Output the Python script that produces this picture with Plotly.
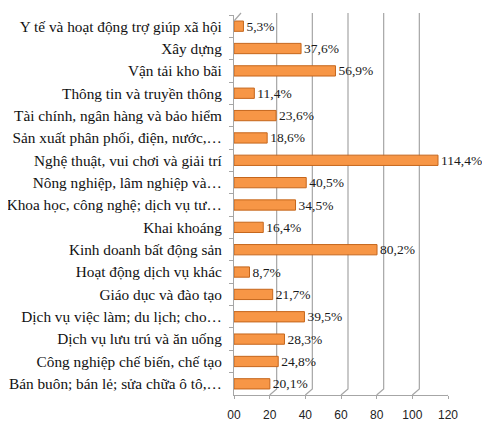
import plotly.graph_objects as go

# categories, top to bottom as in the picture
categories = [
    "Y tế và hoạt động trợ giúp xã hội",
    "Xây dựng",
    "Vận tải kho bãi",
    "Thông tin và truyền thông",
    "Tài chính, ngân hàng và bảo hiểm",
    "Sản xuất phân phối, điện, nước,…",
    "Nghệ thuật, vui chơi và giải trí",
    "Nông nghiệp, lâm nghiệp và…",
    "Khoa học, công nghệ; dịch vụ tư…",
    "Khai khoáng",
    "Kinh doanh bất động sản",
    "Hoạt động dịch vụ khác",
    "Giáo dục và đào tạo",
    "Dịch vụ việc làm; du lịch; cho…",
    "Dịch vụ lưu trú và ăn uống",
    "Công nghiệp chế biến, chế tạo",
    "Bán buôn; bán lẻ; sửa chữa ô tô,…",
]
values = [5.3, 37.6, 56.9, 11.4, 23.6, 18.6, 114.4, 40.5, 34.5,
          16.4, 80.2, 8.7, 21.7, 39.5, 28.3, 24.8, 20.1]
x_ticks = [0, 20, 40, 60, 80, 100, 120]
x_tick_labels = ["00", "20", "40", "60", "80", "100", "120"]

labels = [f"{v:.1f}".replace(".", ",") + "%" for v in values]

grid_col = "#A6A6A6"

fig = go.Figure()
fig.add_trace(go.Bar(
    x=values,
    y=categories,
    orientation="h",
    width=0.46,
    marker=dict(color="#F79646", line=dict(color="#C5661C", width=1)),
    text=labels,
    textposition="outside",
    constraintext="none",
    textfont=dict(family="Liberation Serif", size=13.5, color="#1a1a1a"),
    cliponaxis=False,
    hoverinfo="skip",
))

# back-wall gridlines with the little 3D slant at the floor
shapes = []
for t in x_ticks[1:]:
    shapes.append(dict(
        type="path", xref="x", yref="paper",
        xsizemode="pixel", ysizemode="pixel",
        xanchor=t, yanchor=0,
        path="M0,0 L7,6 L7,382",
        line=dict(color=grid_col, width=1.2),
        layer="below",
    ))
# left wall top slant
shapes.append(dict(
    type="path", xref="x", yref="paper",
    xsizemode="pixel", ysizemode="pixel",
    xanchor=0, yanchor=1,
    path="M0,-6 L7,2",
    line=dict(color=grid_col, width=1.2),
))

# the page has an 8px body margin, so the figure is shifted to compensate
fig.update_layout(
    width=490, height=422,
    margin=dict(l=226, r=50, t=7, b=35),
    paper_bgcolor="white", plot_bgcolor="white",
    showlegend=False,
    shapes=shapes,
    bargap=0.5,
)
fig.update_xaxes(
    range=[0, 120],
    automargin=False,
    tickvals=x_ticks, ticktext=x_tick_labels,
    showgrid=False, zeroline=False,
    showline=True, linecolor=grid_col, linewidth=1.2,
    ticks="outside", ticklen=3, tickcolor=grid_col,
    ticklabelstandoff=5,
    tickfont=dict(family="Liberation Sans", size=12, color="#222222"),
    fixedrange=True,
)
fig.update_yaxes(
    autorange="reversed",
    automargin=False,
    showgrid=False, zeroline=False,
    showline=True, linecolor=grid_col, linewidth=1.2,
    ticks="outside", ticklen=4, tickcolor=grid_col, tickson="boundaries",
    ticklabelstandoff=8,
    tickfont=dict(family="Liberation Serif", size=15.3, color="#111111"),
    fixedrange=True,
)

fig.write_html("out.html")
